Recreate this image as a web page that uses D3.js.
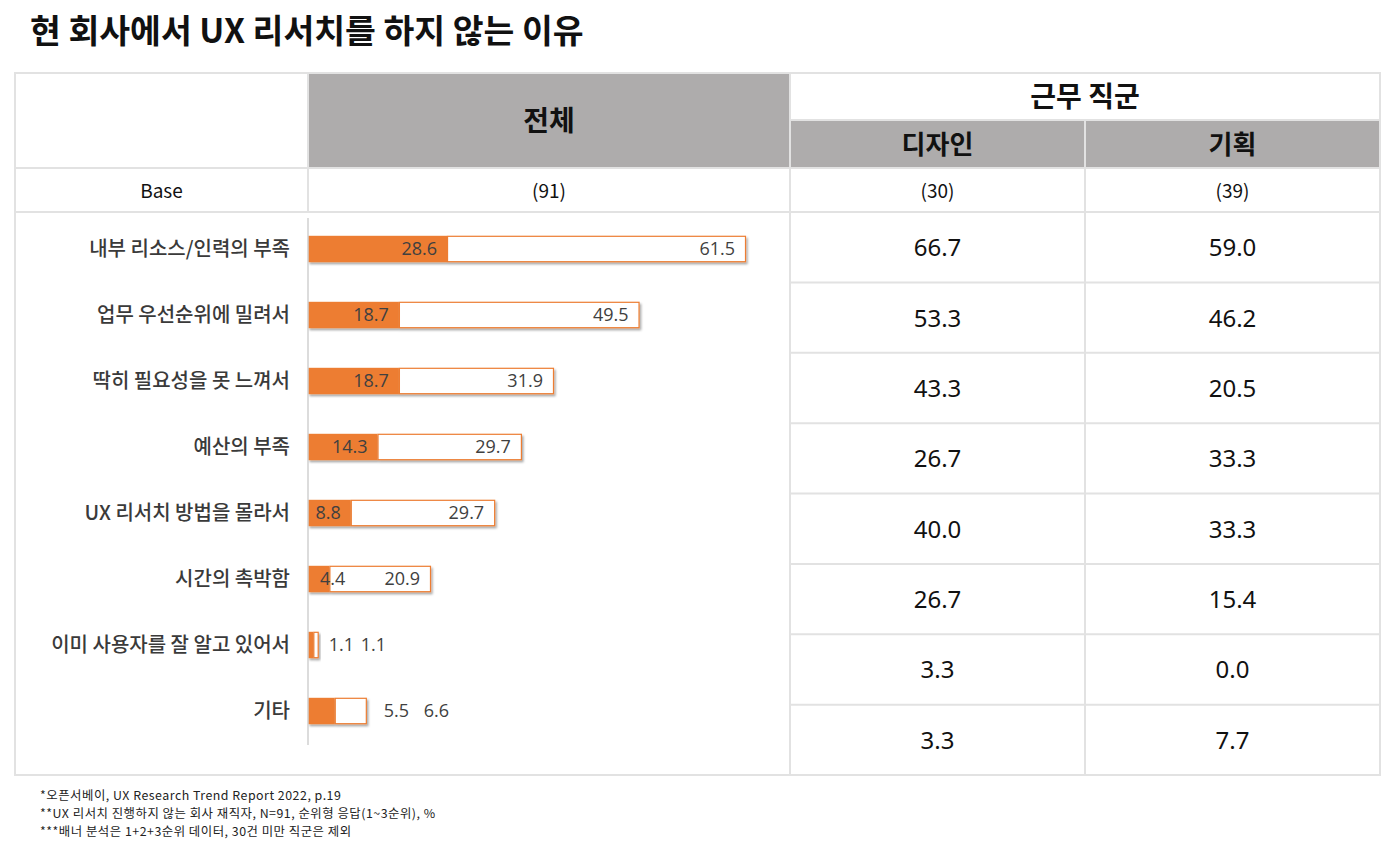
<!DOCTYPE html>
<html>
<head>
<meta charset="utf-8">
<script src="https://cdn.jsdelivr.net/npm/d3@7"></script>
<style>
  body { margin: 0; background: #fff; }
  svg { display: block; font-family: "Noto Sans CJK KR", "Noto Sans", sans-serif; }
</style>
</head>
<body>
<div id="chart"></div>
<script>
// data
let reasons = ["내부 리소스/인력의 부족", "업무 우선순위에 밀려서", "딱히 필요성을 못 느껴서", "예산의 부족",
  "UX 리서치 방법을 몰라서", "시간의 촉박함", "이미 사용자를 잘 알고 있어서", "기타"];
let rank1 = [28.6, 18.7, 18.7, 14.3, 8.8, 4.4, 1.1, 5.5];
let rank123 = [61.5, 49.5, 31.9, 29.7, 29.7, 20.9, 1.1, 6.6];
let design = [66.7, 53.3, 43.3, 26.7, 40.0, 26.7, 3.3, 3.3];
let planning = [59.0, 46.2, 20.5, 33.3, 33.3, 15.4, 0.0, 7.7];
let bases = ["(91)", "(30)", "(39)"];
let footnotes = ["*오픈서베이, UX Research Trend Report 2022, p.19",
  "**UX 리서치 진행하지 않는 회사 재직자, N=91, 순위형 응답(1~3순위), %",
  "***배너 분석은 1+2+3순위 데이터, 30건 미만 직군은 제외"];

let w = 1400, h = 847;
let orange = "#ed7d31", gray = "#aeacac", lineCol = "#e2e2e2";

let svg = d3.select("#chart").append("svg").attr("width", w).attr("height", h);

// column edges
let x0 = 15, x1 = 308, x2 = 790, x3 = 1085, x4 = 1380;
let yTop = 73, yMid = 120, yHead = 168, yBase = 212, yBottom = 775;

svg.append("text").attr("x", 30).attr("y", 43)
  .attr("font-size", 33.5).attr("font-weight", 700).attr("fill", "#111")
  .text("현 회사에서 UX 리서치를 하지 않는 이유");

// header fills
svg.append("rect").attr("x", x1).attr("y", yTop).attr("width", x2 - x1).attr("height", yHead - yTop).attr("fill", gray);
svg.append("rect").attr("x", x2).attr("y", yMid).attr("width", x4 - x2).attr("height", yHead - yMid).attr("fill", gray);

// table lines
let lines = svg.append("g").attr("stroke", lineCol).attr("stroke-width", 2).attr("fill", "none");
lines.append("rect").attr("x", x0).attr("y", yTop).attr("width", x4 - x0).attr("height", yBottom - yTop);
lines.append("line").attr("x1", x1).attr("x2", x1).attr("y1", yTop).attr("y2", yBase);
lines.append("line").attr("x1", x2).attr("x2", x2).attr("y1", yTop).attr("y2", yBottom);
lines.append("line").attr("x1", x3).attr("x2", x3).attr("y1", yMid).attr("y2", yBottom);
lines.append("line").attr("x1", x2).attr("x2", x4).attr("y1", yMid).attr("y2", yMid);
lines.append("line").attr("x1", x0).attr("x2", x4).attr("y1", yHead).attr("y2", yHead);
lines.append("line").attr("x1", x0).attr("x2", x4).attr("y1", yBase).attr("y2", yBase);

// table rows on right
let rowY = d3.scaleBand().domain(reasons).range([yBase, yBottom]);
lines.selectAll(".rowline").data(reasons.slice(1)).join("line")
  .attr("x1", x2).attr("x2", x4)
  .attr("y1", d => rowY(d)).attr("y2", d => rowY(d));

// header texts
let head = svg.append("g").attr("text-anchor", "middle").attr("font-weight", 700).attr("fill", "#111");
head.append("text").attr("x", (x1 + x2) / 2).attr("y", 131).attr("font-size", 28).text("전체");
head.append("text").attr("x", (x2 + x4) / 2).attr("y", 107).attr("font-size", 28).text("근무 직군");
head.append("text").attr("x", (x2 + x3) / 2).attr("y", 154).attr("font-size", 26).text("디자인");
head.append("text").attr("x", (x3 + x4) / 2).attr("y", 154).attr("font-size", 26).text("기획");

// base row
let baseG = svg.append("g").attr("text-anchor", "middle").attr("font-size", 19).attr("fill", "#111");
baseG.append("text").attr("x", (x0 + x1) / 2).attr("y", 198).text("Base");
let colCenters = [(x1 + x2) / 2, (x2 + x3) / 2, (x3 + x4) / 2];
baseG.selectAll(".b").data(bases).join("text")
  .attr("x", (d, i) => colCenters[i]).attr("y", 198).text(d => d);

// table values
let vals = svg.append("g").attr("text-anchor", "middle").attr("font-size", 24)
  .attr("font-family", "'Noto Sans', sans-serif").attr("fill", "#111");
vals.selectAll(".d").data(design).join("text")
  .attr("x", colCenters[1]).attr("y", (d, i) => rowY(reasons[i]) + rowY.bandwidth() / 2 + 9)
  .text(d => d.toFixed(1));
vals.selectAll(".p").data(planning).join("text")
  .attr("x", colCenters[2]).attr("y", (d, i) => rowY(reasons[i]) + rowY.bandwidth() / 2 + 9)
  .text(d => d.toFixed(1));

// bar chart
let barY = d3.scaleBand().domain(reasons).range([216, 744]).paddingInner(0.6).paddingOuter(0.3);
let xScale = d3.scaleLinear().domain([0, 90.1]).range([x1, 746]);

let defs = svg.append("defs");
let f = defs.append("filter").attr("id", "shadow").attr("x", "-10%").attr("y", "-20%").attr("width", "130%").attr("height", "160%");
f.append("feDropShadow").attr("dx", 1.5).attr("dy", 2).attr("stdDeviation", 1.2).attr("flood-color", "#000").attr("flood-opacity", 0.35);

let bars = svg.append("g");
let rows = reasons.map((r, i) => ({ name: r, a: rank1[i], b: rank123[i] }));

let barG = bars.selectAll(".bar").data(rows).join("g").attr("filter", "url(#shadow)");
barG.append("rect").attr("x", d => xScale(d.a) + 0.5).attr("y", d => barY(d.name) + 0.5)
  .attr("width", d => xScale(d.a + d.b) - xScale(d.a) - 1).attr("height", barY.bandwidth() - 1)
  .attr("fill", "#fff").attr("stroke", orange).attr("stroke-width", 1.2);
barG.append("rect").attr("x", xScale(0)).attr("y", d => barY(d.name))
  .attr("width", d => xScale(d.a) - xScale(0)).attr("height", barY.bandwidth())
  .attr("fill", orange);

// axis line
svg.append("line").attr("x1", x1).attr("x2", x1).attr("y1", 218).attr("y2", 745)
  .attr("stroke", "#d0d0d0").attr("stroke-width", 1.5);

// category labels
svg.append("g").attr("text-anchor", "end").attr("font-size", 20).attr("font-weight", 500).attr("fill", "#3a3a3a")
  .selectAll("text").data(reasons).join("text")
  .attr("x", 290).attr("y", d => barY(d) + barY.bandwidth() / 2 + 7).text(d => d);

// value labels
let lab = svg.append("g").attr("font-size", 18).attr("fill", "#404040").attr("font-family", "'Open Sans', 'Noto Sans', sans-serif");
rows.forEach(d => {
  let cy = barY(d.name) + barY.bandwidth() / 2 + 6;
  let aEnd = xScale(d.a), bEnd = xScale(d.a + d.b);
  if (d.a + d.b < 15) {
    // too small, labels after bar
    let start = bEnd + (d.a + d.b < 5 ? 10 : 17);
    lab.append("text").attr("x", start).attr("y", cy).text(d.a.toFixed(1));
    lab.append("text").attr("x", start + (d.a + d.b < 5 ? 32 : 40)).attr("y", cy).text(d.b.toFixed(1));
  } else {
    if (aEnd - x1 > 30) {
      lab.append("text").attr("text-anchor", "end").attr("x", aEnd - 10).attr("y", cy).text(d.a.toFixed(1));
    } else {
      lab.append("text").attr("x", x1 + 12).attr("y", cy).text(d.a.toFixed(1));
    }
    lab.append("text").attr("text-anchor", "end").attr("x", bEnd - 11).attr("y", cy).text(d.b.toFixed(1));
  }
});

// footnotes
svg.append("g").attr("font-size", 12.4).attr("letter-spacing", 0.5).attr("fill", "#222")
  .selectAll("text").data(footnotes).join("text")
  .attr("x", 40).attr("y", (d, i) => 800 + i * 18).text(d => d);
</script>
</body>
</html>
